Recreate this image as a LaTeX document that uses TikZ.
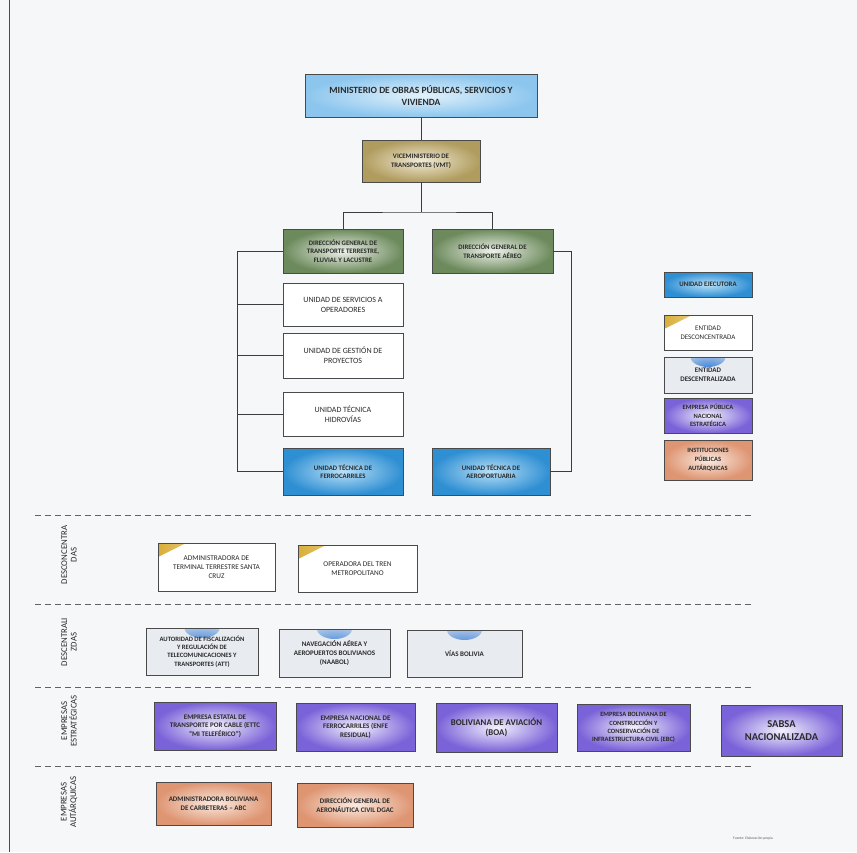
\documentclass[tikz,border=0pt]{standalone}
\usepackage{fontspec}
\setmainfont{Carlito}
\definecolor{bg}{HTML}{F6F7F9}
\definecolor{edge}{HTML}{4A4A4A}
\definecolor{ln}{HTML}{3C3C3C}
\definecolor{txt}{HTML}{2A2A2A}
\definecolor{bluO}{HTML}{2F8FD3}
\definecolor{bluI}{HTML}{B9E0F7}
\definecolor{minO}{HTML}{8CC6EE}
\definecolor{minI}{HTML}{E3F2FC}
\definecolor{khaO}{HTML}{B09C5E}
\definecolor{khaI}{HTML}{F1EBD6}
\definecolor{grnO}{HTML}{6C8A5C}
\definecolor{grnI}{HTML}{EEF2EA}
\definecolor{purO}{HTML}{7A62D8}
\definecolor{purI}{HTML}{F4F1FD}
\definecolor{orgO}{HTML}{DE9572}
\definecolor{orgI}{HTML}{FBEAE1}
\definecolor{goldc}{HTML}{D9AE3A}
\definecolor{dcen}{HTML}{E8EBF0}
\definecolor{spot}{HTML}{3A7FD6}
\tikzset{
  box/.style={draw=edge, line width=0.7pt, align=center, inner sep=1pt, text=txt,
    font=\fontsize{7}{8.4}\selectfont},
  sz/.style 2 args={minimum width=#1pt, minimum height=#2pt},
  whitebox/.style={box, fill=white, font=\fontsize{8}{10}\selectfont},
  minbox/.style={box, inner color=minI, outer color=minO, font=\fontsize{9.5}{12}\selectfont\bfseries},
  bluebox/.style={box, inner color=bluI, outer color=bluO, font=\fontsize{6.8}{8.5}\selectfont\bfseries},
  khabox/.style={box, inner color=khaI, outer color=khaO, font=\fontsize{6.8}{9}\selectfont\bfseries},
  grnbox/.style={box, inner color=grnI, outer color=grnO, font=\fontsize{6.8}{8.6}\selectfont\bfseries},
  purbox/.style={box, inner color=purI, outer color=purO, font=\fontsize{7}{8.6}\selectfont\bfseries},
  orgbox/.style={box, inner color=orgI, outer color=orgO, font=\fontsize{7}{8.6}\selectfont\bfseries},
  desconc/.style={box, fill=white, font=\fontsize{7.3}{9}\selectfont,
    path picture={\shade[left color=goldc, right color=white]
      (path picture bounding box.north west) -- ++(28pt,0pt) -- ++(-28pt,-14pt) -- cycle;}},
  descent/.style={box, fill=dcen, font=\fontsize{7}{8.6}\selectfont\bfseries,
    path picture={\shade[inner color=spot, outer color=dcen]
      ([xshift=#1pt, yshift=1pt]path picture bounding box.north) ellipse (18pt and 11pt);}},
  descent/.default=0,
  conn/.style={draw=ln, line width=0.8pt},
  sep/.style={draw=ln!80, line width=0.8pt, dash pattern=on 6pt off 4pt},
  seclabel/.style={rotate=90, align=center, text=txt, font=\fontsize{8.8}{9.5}\selectfont},
}
\begin{document}
\begin{tikzpicture}[x=1pt,y=-1pt]
\useasboundingbox (0,0) rectangle (857,852);
\fill[bg] (0,0) rectangle (857,852);
\draw[gray!60!black, line width=1pt] (9,0) -- (9,852);

% top hierarchy
\node[minbox, sz={232}{43}] (min) at (421,95.5) {MINISTERIO DE OBRAS PÚBLICAS, SERVICIOS Y\\VIVIENDA};
\node[khabox, sz={118}{42}] (vmt) at (421,161) {VICEMINISTERIO DE\\TRANSPORTES (VMT)};
\node[grnbox, sz={120}{44}] (dgt) at (343,251) {DIRECCIÓN GENERAL DE\\TRANSPORTE TERRESTRE,\\FLUVIAL Y LACUSTRE};
\node[grnbox, sz={121}{44}] (dga) at (492.5,251) {DIRECCIÓN GENERAL DE\\TRANSPORTE AÉREO};
\node[whitebox, sz={120}{43}] (uso) at (343,304.5) {UNIDAD DE SERVICIOS A\\OPERADORES};
\node[whitebox, sz={120}{45}] (ugp) at (343,355.5) {UNIDAD DE GESTIÓN DE\\PROYECTOS};
\node[whitebox, sz={120}{44}] (uth) at (343,414) {UNIDAD TÉCNICA\\HIDROVÍAS};
\node[bluebox, sz={120}{47}] (utf) at (343,471.5) {UNIDAD TÉCNICA DE\\FERROCARRILES};
\node[bluebox, sz={118}{47}] (uta) at (491,471.5) {UNIDAD TÉCNICA DE\\AEROPORTUARIA};

\coordinate (j) at (421,212);
\draw[conn] (min) -- (vmt);
\draw[conn] (vmt) -- (j);
\draw[conn] (dgt.north) |- (j) -| (dga.north);
\coordinate (lb) at (237,471.5);
\draw[conn] (dgt.west) -| (lb) -- (utf.west);
\foreach \n in {uso,ugp,uth} \draw[conn] (\n.west) -- (\n.west -| lb);
\coordinate (rb) at (571,471.5);
\draw[conn] (dga.east) -| (rb) -- (uta.east);

% legend
\node[bluebox, sz={88}{25}] (l1) at (708,284.5) {UNIDAD EJECUTORA};
\node[desconc, sz={88}{35}, font=\fontsize{7}{8.6}\selectfont] (l2) at (708,332.5) {ENTIDAD\\DESCONCENTRADA};
\node[descent, sz={88}{36}] (l3) at (708,375) {ENTIDAD\\DESCENTRALIZADA};
\node[purbox, sz={88}{35}, font=\fontsize{6.5}{8.4}\selectfont\bfseries] (l4) at (708,415.5) {EMPRESA PÚBLICA\\NACIONAL\\ESTRATÉGICA};
\node[orgbox, sz={88}{40}, font=\fontsize{6.5}{8.8}\selectfont\bfseries] (l5) at (708,460) {INSTITUCIONES\\PÚBLICAS\\AUTÁRQUICAS};

% separators
\foreach \i/\y in {1/515,2/604,3/687,4/766} {
  \coordinate (sl\i) at (35,\y);
  \coordinate (sr\i) at (752,\y);
  \draw[sep] (sl\i) -- (sr\i);
}

% section labels
\node[seclabel] (s1) at (69,555) {DESCONCENTRA\\DAS};
\node[seclabel] (s2) at (69,642) {DESCENTRALI\\ZDAS};
\node[seclabel] (s3) at (69,721) {EMPRESAS\\ESTRATÉGICAS};
\node[seclabel] (s4) at (69,802) {EMPRESAS\\AUTÁRQUICAS};

% desconcentradas
\node[desconc, sz={117}{48}] (d1) at (216.5,567) {ADMINISTRADORA DE\\TERMINAL TERRESTRE SANTA\\CRUZ};
\node[desconc, sz={119}{47}] (d2) at (357.5,568.5) {OPERADORA DEL TREN\\METROPOLITANO};

% descentralizadas
\node[descent, sz={112}{47}, font=\fontsize{6.6}{8.4}\selectfont\bfseries] (e1) at (202,651.5) {AUTORIDAD DE FISCALIZACIÓN\\Y REGULACIÓN DE\\TELECOMUNICACIONES Y\\TRANSPORTES (ATT)};
\node[descent, sz={111}{48}] (e2) at (334.5,653) {NAVEGACIÓN AÉREA Y\\AEROPUERTOS BOLIVIANOS\\(NAABOL)};
\node[descent, sz={115}{47}] (e3) at (464.5,653.5) {VÍAS BOLIVIA};

% empresas estrategicas
\node[purbox, sz={122}{48}] (p1) at (215,726) {EMPRESA ESTATAL DE\\TRANSPORTE POR CABLE (ETTC\\“MI TELEFÉRICO”)};
\node[purbox, sz={119}{48}] (p2) at (355.5,727) {EMPRESA NACIONAL DE\\FERROCARRILES (ENFE\\RESIDUAL)};
\node[purbox, sz={121}{49}, font=\fontsize{8.8}{10.5}\selectfont\bfseries] (p3) at (496.5,727.5) {BOLIVIANA DE AVIACIÓN\\(BOA)};
\node[purbox, sz={113}{47}, font=\fontsize{6.5}{8.2}\selectfont\bfseries] (p4) at (633.5,727.5) {EMPRESA BOLIVIANA DE\\CONSTRUCCIÓN Y\\CONSERVACIÓN DE\\INFRAESTRUCTURA CIVIL (EBC)};
\node[purbox, sz={121}{51}, font=\fontsize{10.5}{13}\selectfont\bfseries] (p5) at (781.5,730.5) {SABSA\\NACIONALIZADA};

% autarquicas
\node[orgbox, sz={115}{43}] (a1) at (213.5,803.5) {ADMINISTRADORA BOLIVIANA\\DE CARRETERAS – ABC};
\node[orgbox, sz={116}{44}] (a2) at (355,805) {DIRECCIÓN GENERAL DE\\AERONÁUTICA CIVIL DGAC};

\node[font=\fontsize{3.6}{4}\selectfont, text=gray!70!black] (src) at (753,839) {Fuente: Elaboración propia};
\end{tikzpicture}
\end{document}
